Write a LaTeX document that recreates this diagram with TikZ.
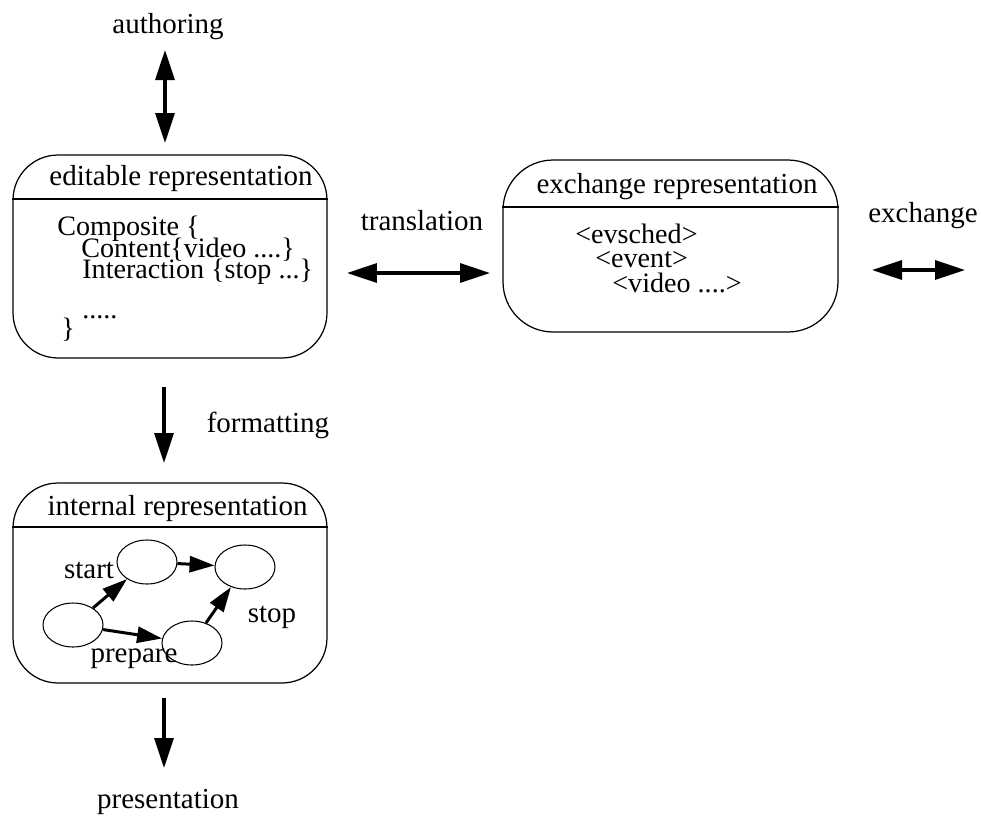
\documentclass[tikz,border=0pt]{standalone}
\usepackage{fontspec}
\setmainfont{Liberation Serif}
\usetikzlibrary{arrows.meta,shapes.geometric}

\begin{document}
\begin{tikzpicture}[x=0.02cm, y=-0.02cm,
  every node/.style={font=\fontsize{16.5}{19}\selectfont, inner sep=0pt},
  bodytext/.style={anchor=base west, font=\fontsize{16}{18}\selectfont},
  repbox/.style={draw, line width=0.7pt, rounded corners=0.9cm},
  evnode/.style={draw, ellipse, line width=0.6pt, minimum width=1.2cm, minimum height=0.88cm},
  bigarrow/.style={line width=1.9pt, -{Triangle[length=0.6cm, width=0.38cm]}},
  dblarrow/.style={line width=1.9pt, {Triangle[length=0.6cm, width=0.38cm]}-{Triangle[length=0.6cm, width=0.38cm]}},
  smallarrow/.style={line width=1.7pt, -{Triangle[length=0.5cm, width=0.32cm]}}]
\useasboundingbox (0,0) rectangle (981,816);

% editable representation
\node[repbox, minimum width=6.28cm, minimum height=4.06cm] (edit) at (170,256.5) {};
\node[anchor=base] (edit-title) at (181,185) {editable representation};
\draw[line width=0.7pt] (edit.west |- 0,199) -- (edit.east |- 0,199);
\foreach \i/\x/\y/\t in {1/57/235/{Composite \{}, 2/81/257/{Content\{video ....\}},
        3/82/278/{Interaction \{stop ...\}}, 4/82/318/{.....}, 5/61/337/{\}}}
        \node[bodytext] (ed-\i) at (\x,\y) {\t};

% exchange representation
\node[repbox, rounded corners=1cm, minimum width=6.7cm, minimum height=3.44cm] (exch) at (670.5,246) {};
\node[anchor=base] (exch-title) at (677,193) {exchange representation};
\draw[line width=0.7pt] (exch.west |- 0,207) -- (exch.east |- 0,207);
\foreach \i/\x/\y/\t in {1/575/243/{<evsched>}, 2/595/267/{<event>}, 3/612/292/{<video ....>}}
        \node[bodytext] (ex-\i) at (\x,\y) {\t};

% internal representation
\node[repbox, minimum width=6.28cm, minimum height=4cm] (intl) at (170,583) {};
\node[anchor=base] (intl-title) at (177.5,515) {internal representation};
\draw[line width=0.7pt] (intl.west |- 0,527) -- (intl.east |- 0,527);

\node[evnode] (e1) at (73,625) {};
\node[evnode] (e2) at (147,562) {};
\node[evnode] (e3) at (245,567) {};
\node[evnode] (e4) at (192,643) {};
\draw[smallarrow] (e1) -- (e2);
\draw[smallarrow] (e2) -- (e3);
\draw[smallarrow] (e1) -- (e4);
\draw[smallarrow] (e4) -- (e3);
\node[anchor=base] (start) at (89,578) {start};
\node[anchor=base] (prepare) at (134,662) {prepare};
\node[anchor=base] (stop) at (272,622) {stop};

% arrows between representations
\coordinate (auth-a) at (165,50);
\coordinate (auth-b) at (165,143);
\coordinate (trl-a) at (347,273);
\coordinate (trl-b) at (490,273);
\coordinate (xch-a) at (872,270);
\coordinate (xch-b) at (965,270);
\coordinate (fmt-a) at (164,387);
\coordinate (fmt-b) at (164,463);
\coordinate (pres-a) at (164,698);
\coordinate (pres-b) at (164,768);
\draw[dblarrow] (auth-a) -- (auth-b);
\draw[dblarrow] (trl-a) -- (trl-b);
\draw[dblarrow] (xch-a) -- (xch-b);
\draw[bigarrow] (fmt-a) -- (fmt-b);
\draw[bigarrow] (pres-a) -- (pres-b);

\node[anchor=base] (authoring) at (168,33) {authoring};
\node[anchor=base] (translation) at (422,230) {translation};
\node[anchor=base] (exchange) at (923,222) {exchange};
\node[anchor=base] (formatting) at (268,432) {formatting};
\node[anchor=base] (presentation) at (168,808) {presentation};
\end{tikzpicture}
\end{document}
